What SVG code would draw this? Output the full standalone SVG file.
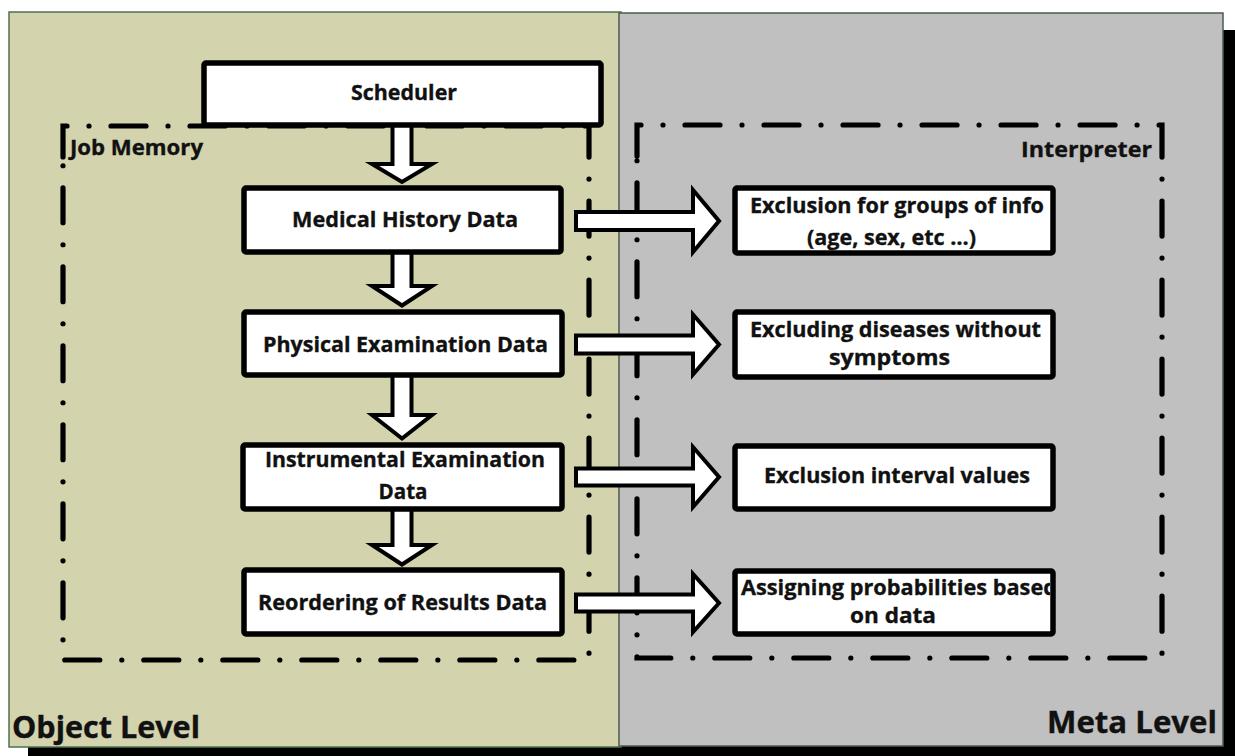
<svg xmlns="http://www.w3.org/2000/svg" width="1235" height="756" viewBox="0 0 1235 756">
<style>
.t{font-family:"Open Sans","Liberation Sans",sans-serif;font-weight:700;font-size:21.5px;fill:#111;stroke:#111;stroke-width:0.35;}
.big{font-family:"Open Sans","Liberation Sans",sans-serif;font-weight:700;font-size:31px;fill:#111;stroke:#111;stroke-width:0.4;}
.box{fill:#fff;stroke:#000;stroke-width:5.5;}
.arr{fill:#fff;stroke:#000;stroke-width:4;stroke-linejoin:miter;}
.dash{fill:none;stroke:#000;stroke-width:5.2;stroke-linecap:round;stroke-dasharray:35 22 0.01 22;}
</style>
<defs>
<clipPath id="clip4"><rect x="735" y="571" width="315" height="63"/></clipPath>
</defs>
<rect x="0" y="0" width="1235" height="756" fill="#fff"/>
<rect x="28" y="30" width="1215" height="730" fill="#000"/>
<g id="object-level">
<rect x="9" y="12" width="612" height="735" fill="#d3d3ad" stroke="#52704f" stroke-width="1.5"/>
<text class="big" x="12" y="738" textLength="188" lengthAdjust="spacingAndGlyphs">Object Level</text>
</g>
<g id="meta-level">
<rect x="619" y="13" width="604" height="733" fill="#c0c0c0" stroke="#4c5c4c" stroke-width="1.5"/>
<text class="big" x="1047" y="733" textLength="170" lengthAdjust="spacingAndGlyphs">Meta Level</text>
</g>
<g id="job-memory">
<path class="dash" d="M63,157 V126 H589 V660 H63 Z"/>
<text class="t" x="70" y="155" textLength="133" lengthAdjust="spacingAndGlyphs">Job Memory</text>
</g>
<g id="interpreter">
<path class="dash" d="M637,156 V125 H1162 V658 H637 Z"/>
<text class="t" x="1021" y="157" textLength="131" lengthAdjust="spacingAndGlyphs">Interpreter</text>
</g>
<g id="connectors">
<path class="arr" d="M392.5,125 V164 H372 L402,182 L432,164 H411.5 V125 Z"/>
<path class="arr" d="M392.5,252 V286 H372 L402,305.5 L432,286 H411.5 V252 Z"/>
<path class="arr" d="M392.5,375 V415 H372 L402,438.5 L432,415 H411.5 V375 Z"/>
<path class="arr" d="M392.5,509 V545 H372 L402,564.5 L432,545 H411.5 V509 Z"/>
<path class="arr" d="M576,212 H693 V190 L719,221 L693,252 V230 H576 Z"/>
<path class="arr" d="M576,335.5 H693 V314.5 L719,344.5 L693,374.5 V353.5 H576 Z"/>
<path class="arr" d="M576,468.5 H693 V447 L719,477 L693,507 V485.5 H576 Z"/>
<path class="arr" d="M576,594.5 H693 V574 L719,603 L693,632 V611.5 H576 Z"/>
</g>
<g id="scheduler">
<rect class="box" x="204" y="63" width="397" height="62" rx="2"/>
<text class="t" x="404" y="100" text-anchor="middle" textLength="106" lengthAdjust="spacingAndGlyphs">Scheduler</text>
</g>
<g id="medical-history">
<rect class="box" x="244" y="188" width="317" height="64" rx="2"/>
<text class="t" x="405" y="227" text-anchor="middle" textLength="226" lengthAdjust="spacingAndGlyphs">Medical History Data</text>
</g>
<g id="physical-examination">
<rect class="box" x="244" y="312" width="318" height="63" rx="2"/>
<text class="t" x="405.5" y="352" text-anchor="middle" textLength="285" lengthAdjust="spacingAndGlyphs">Physical Examination Data</text>
</g>
<g id="instrumental-examination">
<rect class="box" x="243" y="445" width="319" height="64" rx="2"/>
<text class="t" x="405" y="467" text-anchor="middle" textLength="280" lengthAdjust="spacingAndGlyphs">Instrumental Examination</text>
<text class="t" x="403" y="499" text-anchor="middle" textLength="49" lengthAdjust="spacingAndGlyphs">Data</text>
</g>
<g id="reordering-results">
<rect class="box" x="244" y="570" width="318" height="64" rx="2"/>
<text class="t" x="402.5" y="610" text-anchor="middle" textLength="289" lengthAdjust="spacingAndGlyphs">Reordering of Results Data</text>
</g>
<g id="exclusion-groups">
<rect class="box" x="735" y="188" width="318" height="65" rx="2"/>
<text class="t" x="897" y="213" text-anchor="middle" textLength="294" lengthAdjust="spacingAndGlyphs">Exclusion for groups of info</text>
<text class="t" x="891.5" y="245" text-anchor="middle" textLength="169" lengthAdjust="spacingAndGlyphs">(age, sex, etc …)</text>
</g>
<g id="excluding-diseases">
<rect class="box" x="735" y="312" width="318" height="65" rx="2"/>
<text class="t" x="895.5" y="337" text-anchor="middle" textLength="291" lengthAdjust="spacingAndGlyphs">Excluding diseases without</text>
<text class="t" x="889.5" y="365" text-anchor="middle" textLength="121" lengthAdjust="spacingAndGlyphs">symptoms</text>
</g>
<g id="exclusion-interval">
<rect class="box" x="735" y="446" width="318" height="63" rx="2"/>
<text class="t" x="897" y="483" text-anchor="middle" textLength="266" lengthAdjust="spacingAndGlyphs">Exclusion interval values</text>
</g>
<g id="assigning-probabilities">
<rect class="box" x="735" y="571" width="318" height="63" rx="2"/>
<g clip-path="url(#clip4)">
<text class="t" x="741" y="595" textLength="316" lengthAdjust="spacingAndGlyphs">Assigning probabilities based</text>
</g>
<text class="t" x="893" y="623" text-anchor="middle" textLength="86" lengthAdjust="spacingAndGlyphs">on data</text>
</g>
</svg>
